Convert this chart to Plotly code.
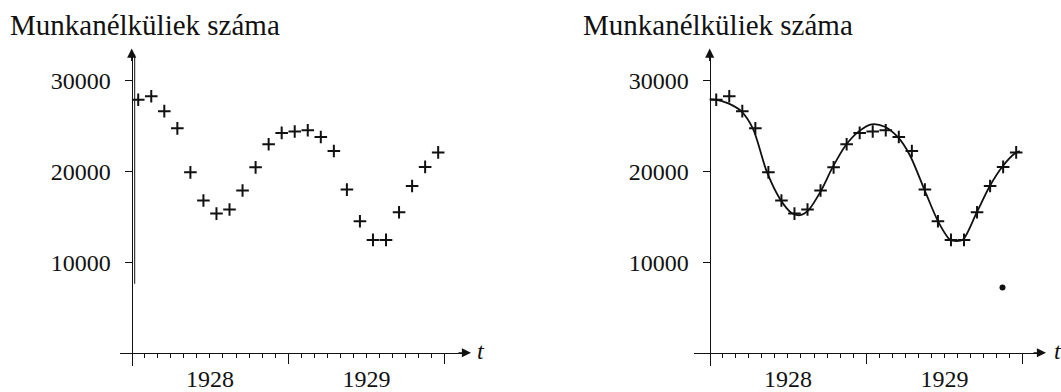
import plotly.graph_objects as go

# ---------------- data ----------------
month_index = list(range(24))          # months from Jan 1928 (points at mid-month)
unemployed = [27900, 28300, 26650, 24750, 19900, 16800, 15350, 15800,
              17900, 20450, 23000, 24250, 24400, 24550, 23800, 22250,
              18000, 14500, 12450, 12450, 15500, 18400, 20500, 22100]

# fitted curve of the right panel (months from Jan 1928)
curve_month = [0, 0.46, 1.43, 2.45, 3.34, 4.37, 5.39, 6.28, 6.92, 7.56, 8.53, 9.39,
               10.42, 11.39, 12.4, 13.43, 14.45, 15.35, 16.50, 17.52, 18.41, 18.93,
               19.43, 20.46, 21.48, 22.45, 23.39, 23.78]
curve_value = [27950, 27930, 27500, 26600, 24650, 20000, 16970, 15430, 15180, 15710,
               17860, 20360, 22860, 24360, 25200, 24930, 23750, 21790, 17860, 14470,
               12500, 12330, 12500, 15430, 18390, 20540, 21970, 22250]

dot_month = [22.45]
dot_value = [7200]

y_tick_values = [10000, 20000, 30000]
y_tick_labels = ["10000", "20000", "30000"]
year_label_pos = [1928.5, 1929.5]
year_labels = ["1928", "1929"]
year_marks = [1929, 1930]
title_text = "Munkanélküliek száma"
axis_var = "t"

START_YEAR = 1928
t_points = [START_YEAR + (m + 0.5) / 12 for m in month_index]
t_curve = [START_YEAR + m / 12 for m in curve_month]
t_dot = [START_YEAR + m / 12 for m in dot_month]

# ---------------- geometry (pixels) ----------------
W, H = 1061, 392
PX_PER_YEAR = 156.5
PX_PER_UNIT = 93.3 / 10000
AXIS_Y = 363.0            # pixel row of value 0
Y_BOTTOM, Y_TOP = 377.0, 58.0
Y_TIP = 50.0
panels = [
    dict(origin=131.7, xl=120.0, xr=462.0, tip=471.0, title_x=8.0, t_x=475.0),
    dict(origin=709.7, xl=694.0, xr=1038.0, tip=1046.0, title_x=581.0, t_x=1052.0),
]

FONT = "Liberation Serif"
BLACK = "#111111"

fig = go.Figure()
layout = dict(width=W, height=H, margin=dict(l=0, r=0, t=0, b=0),
              paper_bgcolor="white", plot_bgcolor="rgba(0,0,0,0)",
              showlegend=False, annotations=[], shapes=[])

month_ticks = [START_YEAR + k / 12 for k in range(1, 25) if k % 12 != 0]

for i, p in enumerate(panels):
    xa = "xaxis" if i == 0 else "xaxis2"
    ya = "yaxis" if i == 0 else "yaxis2"
    yo = "yaxis3" if i == 0 else "yaxis4"
    xr = "x" if i == 0 else "x2"
    yr = "y" if i == 0 else "y2"

    x_range = [START_YEAR + (p["xl"] - p["origin"]) / PX_PER_YEAR,
               START_YEAR + (p["xr"] - p["origin"]) / PX_PER_YEAR]
    y_range = [(AXIS_Y - Y_BOTTOM) / PX_PER_UNIT, (AXIS_Y - Y_TOP) / PX_PER_UNIT]

    ticktext = []
    for v in month_ticks:
        lab = ""
        for pos, txt in zip(year_label_pos, year_labels):
            if abs(v - pos) < 1e-6:
                lab = txt
        ticktext.append(lab)

    layout[xa] = dict(domain=[p["xl"] / W, p["xr"] / W], range=x_range,
                      anchor="free", position=1 - AXIS_Y / H,
                      showline=True, linecolor=BLACK, linewidth=1.3,
                      showgrid=False, zeroline=False,
                      tickmode="array", tickvals=month_ticks, ticktext=ticktext,
                      ticks="outside", ticklen=4, tickwidth=1, tickcolor=BLACK,
                      tickfont=dict(family=FONT, size=24, color=BLACK),
                      minor=dict(tickmode="array", tickvals=year_marks,
                                 ticks="outside", ticklen=10, tickwidth=1,
                                 tickcolor=BLACK, showgrid=False),
                      fixedrange=True)
    layout[ya] = dict(domain=[1 - Y_BOTTOM / H, 1 - Y_TOP / H], range=y_range,
                      anchor="free", position=p["origin"] / W,
                      showline=True, linecolor=BLACK, linewidth=1.3,
                      showgrid=False, zeroline=False,
                      tickmode="array", tickvals=y_tick_values, ticktext=y_tick_labels,
                      ticks="outside", ticklen=7, tickwidth=1, tickcolor=BLACK,
                      ticklabelstandoff=9,
                      tickfont=dict(family=FONT, size=24, color=BLACK),
                      fixedrange=True)
    layout[yo] = dict(overlaying=yr, range=y_range, anchor="free",
                      position=p["origin"] / W, showline=False, showgrid=False,
                      zeroline=False, tickmode="array", tickvals=y_tick_values,
                      ticks="inside", ticklen=7, tickwidth=1, tickcolor=BLACK,
                      showticklabels=False, fixedrange=True)

    # axis arrows
    layout["annotations"].append(dict(
        xref="paper", yref="paper", x=p["tip"] / W, y=1 - AXIS_Y / H,
        ax=-14, ay=0, axref="pixel", ayref="pixel", text="", showarrow=True,
        arrowhead=2, arrowsize=1.4, arrowwidth=1.3, arrowcolor=BLACK, standoff=0))
    layout["annotations"].append(dict(
        xref="paper", yref="paper", x=p["origin"] / W, y=1 - Y_TIP / H,
        ax=0, ay=14, axref="pixel", ayref="pixel", text="", showarrow=True,
        arrowhead=2, arrowsize=1.4, arrowwidth=1.3, arrowcolor=BLACK, standoff=0))
    # axis variable
    layout["annotations"].append(dict(
        xref="paper", yref="paper", x=p["t_x"] / W, y=1 - 361 / H,
        xanchor="left", yanchor="middle", text=axis_var, showarrow=False,
        font=dict(family=FONT, size=24, color=BLACK, style="italic")))
    # panel title
    layout["annotations"].append(dict(
        xref="paper", yref="paper", x=p["title_x"] / W, y=1 - 44 / H,
        xanchor="left", yanchor="bottom", text=title_text, showarrow=False,
        font=dict(family=FONT, size=29, color=BLACK)))

    # data points
    fig.add_trace(go.Scatter(x=t_points, y=unemployed, mode="markers",
                             xaxis=xr, yaxis=yr, cliponaxis=False,
                             marker=dict(symbol="cross-thin", size=9,
                                         line=dict(width=2, color=BLACK))))
    if i == 1:
        fig.add_trace(go.Scatter(x=t_curve, y=curve_value, mode="lines",
                                 xaxis=xr, yaxis=yr, cliponaxis=False,
                                 line=dict(color=BLACK, width=1.8, shape="spline",
                                           smoothing=0.8)))
        fig.add_trace(go.Scatter(x=t_dot, y=dot_value, mode="markers",
                                 xaxis=xr, yaxis=yr,
                                 marker=dict(symbol="circle", size=6, color=BLACK)))

# scanned double stroke on the upper part of the left vertical axis
layout["shapes"].append(dict(type="line", xref="paper", yref="paper",
                             x0=134.7 / W, x1=134.7 / W,
                             y0=1 - 292 / H, y1=1 - 56 / H,
                             line=dict(color=BLACK, width=1)))

fig.update_layout(**layout)
fig.write_html("out.html")
